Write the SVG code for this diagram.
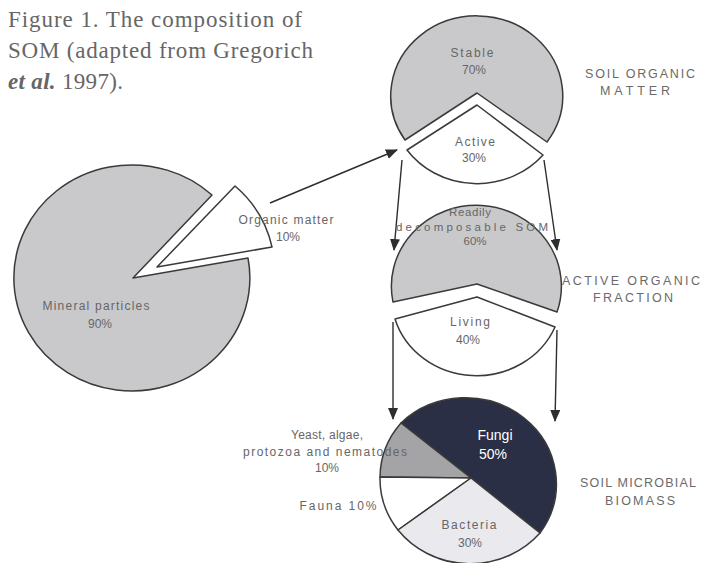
<svg xmlns="http://www.w3.org/2000/svg" width="705" height="563" viewBox="0 0 705 563">
<style>
.title{font-family:"Liberation Serif",serif;font-size:23px;fill:#666}
.lbl{font-family:"Liberation Sans",Arial,sans-serif;font-size:12px;fill:#666;text-anchor:middle}
.cap{font-family:"Liberation Sans",Arial,sans-serif;font-size:12.5px;fill:#6a6a6a;text-anchor:middle}
.pie{stroke:#3a3a3a;stroke-width:1.5;stroke-linejoin:round}
.gray{fill:#c9c9cc}
.white{fill:#ffffff}
.conn{stroke:#2e2e2e;stroke-width:1.4;fill:none}
</style>
<defs>
<marker id="ah" viewBox="0 0 12 10" refX="11" refY="5" markerWidth="12" markerHeight="10" markerUnits="userSpaceOnUse" orient="auto">
<path d="M0,0 L12,5 L0,10 Z" fill="#2e2e2e"/>
</marker>
</defs>
<rect width="705" height="563" fill="#ffffff"/>

<g id="title">
<text class="title" x="8" y="27" textLength="294">Figure 1. The composition of</text>
<text class="title" x="8" y="58" textLength="305">SOM (adapted from Gregorich</text>
<text class="title" x="8" y="89" textLength="115"><tspan font-style="italic" font-weight="bold">et al.</tspan> 1997).</text>
</g>

<g id="connectors">
<line class="conn" x1="270" y1="203" x2="397" y2="150" marker-end="url(#ah)"/>
<line class="conn" x1="402" y1="160" x2="394" y2="250" marker-end="url(#ah)"/>
<line class="conn" x1="544" y1="160" x2="557" y2="250" marker-end="url(#ah)"/>
<line class="conn" x1="393" y1="322" x2="393" y2="419" marker-end="url(#ah)"/>
<line class="conn" x1="557" y1="330" x2="555" y2="421" marker-end="url(#ah)"/>
</g>

<g id="mineral-pie">
<path class="pie gray" d="M133,278 L248,258 A118 113 0 1 1 212,195 Z"/>
<path class="pie white" d="M157,267 L235,186 A118 113 0 0 1 272,247 Z"/>
<text class="lbl" x="96" y="310" textLength="107">Mineral particles</text>
<text class="lbl" x="100" y="328">90%</text>
<text class="lbl" x="286" y="224" textLength="95">Organic matter</text>
<text class="lbl" x="288" y="241">10%</text>
</g>

<g id="soil-organic-matter">
<path class="pie gray" d="M477,93 L547,142 A86 80 0 1 0 405,140 Z"/>
<path class="pie white" d="M477,105 L543,155 A86 80 0 0 1 407,150 Z"/>
<text class="lbl" x="472" y="57" textLength="43">Stable</text>
<text class="lbl" x="474" y="74">70%</text>
<text class="lbl" x="475" y="146" textLength="40">Active</text>
<text class="lbl" x="474" y="162">30%</text>
<text class="cap" x="640" y="78" textLength="110">SOIL ORGANIC</text>
<text class="cap" x="635" y="95" textLength="70">MATTER</text>
</g>

<g id="active-organic-fraction">
<path class="pie gray" d="M477,284 L557,312 A85 81 0 1 0 393,302 Z"/>
<path class="pie white" d="M477,297 L555,327 A85 79 0 0 1 395,319 Z"/>
<text class="lbl" x="470" y="216" style="font-size:11.5px" textLength="42">Readily</text>
<text class="lbl" x="472" y="231" style="font-size:11.5px" textLength="152">decomposable SOM</text>
<text class="lbl" x="475" y="245" style="font-size:11.5px">60%</text>
<text class="lbl" x="470" y="326" textLength="40">Living</text>
<text class="lbl" x="468" y="344">40%</text>
<text class="cap" x="631" y="285" textLength="138">ACTIVE ORGANIC</text>
<text class="cap" x="633" y="302" textLength="80">FRACTION</text>
</g>

<g id="soil-microbial-biomass">
<path class="pie" fill="#2b2f45" d="M471,478 L401,423 A91 86 0 0 1 540,533 Z"/>
<path class="pie" fill="#a4a4a6" d="M471,478 L380,477 A91 86 0 0 1 401,423 Z"/>
<path class="pie white" d="M471,478 L398,530 A91 86 0 0 1 380,477 Z"/>
<path class="pie" fill="#e9e9ee" d="M471,478 L540,533 A91 86 0 0 1 398,530 Z"/>
<text class="lbl" x="495" y="440" style="fill:#ffffff;font-size:14px">Fungi</text>
<text class="lbl" x="493" y="459" style="fill:#ffffff;font-size:14px">50%</text>
<text class="lbl" x="469" y="529" textLength="55">Bacteria</text>
<text class="lbl" x="470" y="547">30%</text>
<text class="lbl" x="327" y="439" textLength="72">Yeast, algae,</text>
<text class="lbl" x="325" y="456" textLength="164">protozoa and nematodes</text>
<text class="lbl" x="327" y="472">10%</text>
<text class="lbl" x="338" y="510" textLength="77">Fauna 10%</text>
<text class="cap" x="638" y="487" textLength="116">SOIL MICROBIAL</text>
<text class="cap" x="640" y="505" textLength="70">BIOMASS</text>
</g>
</svg>
